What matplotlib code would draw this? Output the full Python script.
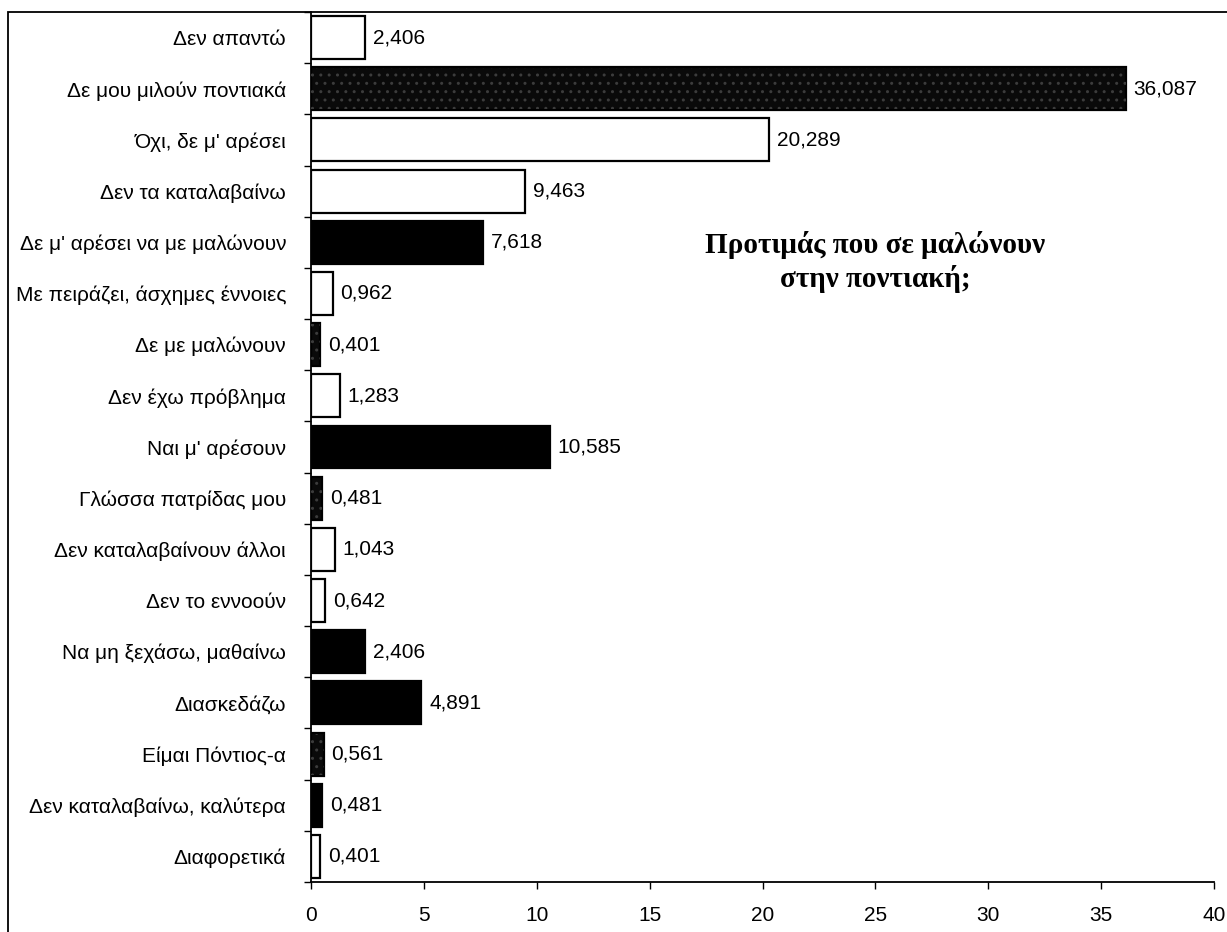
import matplotlib
matplotlib.use("Agg")
import matplotlib.pyplot as plt
import numpy as np
from matplotlib.patches import Rectangle

plt.rcParams['font.family'] = ['Liberation Sans', 'DejaVu Sans']
plt.rcParams['hatch.linewidth'] = 1.0

labels = [
    "Δεν απαντώ",
    "Δε μου μιλούν ποντιακά",
    "Όχι, δε μ' αρέσει",
    "Δεν τα καταλαβαίνω",
    "Δε μ' αρέσει να με μαλώνουν",
    "Με πειράζει, άσχημες έννοιες",
    "Δε με μαλώνουν",
    "Δεν έχω πρόβλημα",
    "Ναι μ' αρέσουν",
    "Γλώσσα πατρίδας μου",
    "Δεν καταλαβαίνουν άλλοι",
    "Δεν το εννοούν",
    "Να μη ξεχάσω, μαθαίνω",
    "Διασκεδάζω",
    "Είμαι Πόντιος-α",
    "Δεν καταλαβαίνω, καλύτερα",
    "Διαφορετικά",
]
values = [2.406, 36.087, 20.289, 9.463, 7.618, 0.962, 0.401, 1.283, 10.585,
          0.481, 1.043, 0.642, 2.406, 4.891, 0.561, 0.481, 0.401]
# w = white, b = black, s = speckled dark
fills = ["w", "s", "w", "w", "b", "w", "s", "w", "b",
         "s", "w", "w", "b", "b", "s", "b", "w"]
title = "Προτιμάς που σε μαλώνουν\nστην ποντιακή;"

W, H = 1227, 932
fig = plt.figure(figsize=(W / 100, H / 100), dpi=100)
ax = fig.add_axes([311 / W, (H - 882) / H, (1214 - 311) / W, (882 - 12) / H])

y = np.arange(len(labels))
face = {"w": "white", "b": "black", "s": "#0a0a0a"}
ax.barh(y, values, height=0.84, color=[face[f] for f in fills],
        edgecolor="black", linewidth=1.6, zorder=2)

# dotted texture on top of the speckled bars
spk = [i for i, f in enumerate(fills) if f == "s"]
ax.barh(y[spk], [values[i] for i in spk], height=0.80, facecolor="none",
        edgecolor="#3c3c3c", linewidth=0, hatch="..", zorder=3)

for yi, v in zip(y, values):
    ax.text(v + 0.35, yi, f"{v:.3f}".replace(".", ","), va="center",
            ha="left", fontsize=15)

ax.set_xlim(0, 40)
ax.set_ylim(len(labels) - 0.5, -0.5)
ax.set_xticks(np.arange(0, 41, 5))
ax.set_yticks(y)
ax.set_yticklabels(labels, fontsize=15)
ax.set_yticks(np.arange(-0.5, len(labels), 1), minor=True)
ax.tick_params(axis="y", which="major", length=0, pad=18)
ax.tick_params(axis="y", which="minor", length=5, width=1.0, direction="out")
ax.tick_params(axis="x", length=5, width=1.0, direction="out", pad=12,
               labelsize=15)

for s in ["top", "right"]:
    ax.spines[s].set_visible(False)
for s in ["left", "bottom"]:
    ax.spines[s].set_linewidth(1.3)

fig.text(875 / W, 1 - 262 / H, title, ha="center", va="center",
         fontsize=21, fontweight="bold", family="Liberation Serif",
         linespacing=1.3)

# chart frame
fig.add_artist(Rectangle((8 / W, -0.1), 1.2, (H - 12) / H + 0.1,
                         transform=fig.transFigure, fill=False,
                         edgecolor="black", linewidth=1.3))

fig.savefig("out.png", dpi=100)
